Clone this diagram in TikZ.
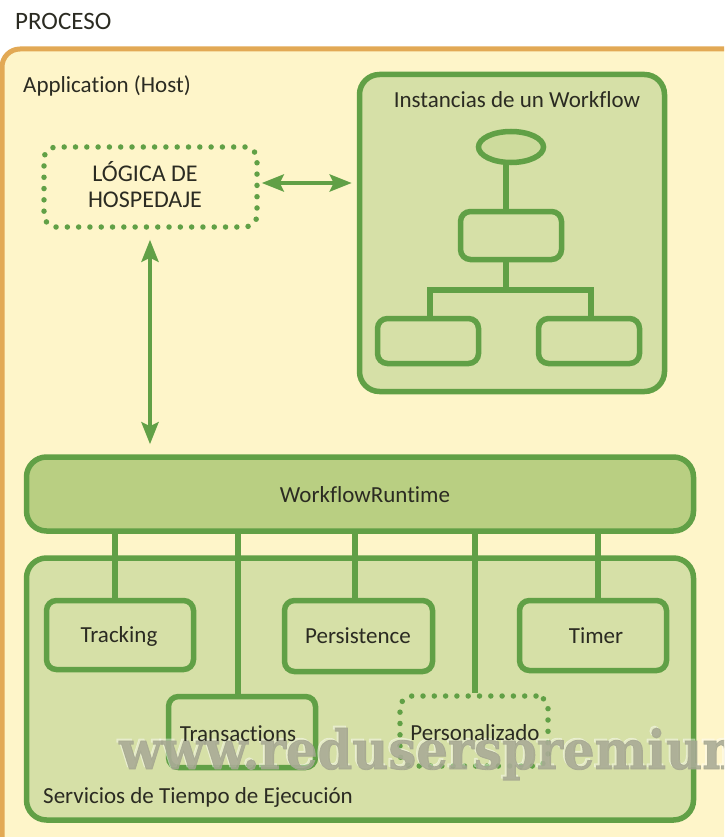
\documentclass[tikz,border=0pt]{standalone}
\usepackage{graphicx}
\usepackage{fontspec}
\setmainfont[Ligatures=NoCommon]{Carlito}
\newfontfamily\wmfont[BoldFeatures={FakeBold=1.5}]{DejaVu Serif}
\usetikzlibrary{arrows.meta,shapes.geometric}
\definecolor{cream}{HTML}{FEF5C9}
\definecolor{orangeb}{HTML}{E2A955}
\definecolor{gline}{HTML}{61A046}
\definecolor{gfill}{HTML}{D6E0A7}
\definecolor{gbar}{HTML}{B9CF82}
\definecolor{ink}{HTML}{2B2B22}
\definecolor{wm}{HTML}{A5A791}
\tikzset{
  every node/.style={text=ink,font=\fontsize{23}{26}\selectfont,inner sep=0pt},
  box/.style={draw=gline,line width=5.5pt,rectangle,rounded corners=10pt},
  panel/.style={box,fill=gfill,rounded corners=20pt},
  dotbox/.style={draw=gline,line width=5.5pt,rectangle,rounded corners=12pt,line cap=round,dash pattern=on 0pt off 11.3pt},
  link/.style={draw=gline,line width=5.5pt},
  arr/.style={draw=gline,line width=4.5pt,{Stealth[length=22pt,width=17pt,inset=4pt]}-{Stealth[length=22pt,width=17pt,inset=4pt]}},
  lbl/.style={anchor=base west},
  wmtext/.style={anchor=base west,font=\wmfont\bfseries\fontsize{54}{60}\selectfont},
}
\begin{document}
\begin{tikzpicture}[x=1pt,y=-1pt]
\useasboundingbox (0,0) rectangle (724,837);
\clip (0,0) rectangle (724,837);
\node[lbl,name=proceso,font=\fontsize{25}{26}\selectfont] at (15,30) {PROCESO};
\path[draw=orangeb,fill=cream,line width=5pt,rounded corners=18pt] (2,49) rectangle (770,880);
\node[lbl,name=app] at (23,93) {Application (Host)};

% Workflow instances
\node[panel,minimum width=305pt,minimum height=317pt,name=inst] at (512,233) {};
\node[anchor=base,name=insttitle] at (517,108) {Instancias de un Workflow};
\node[ellipse,draw=gline,line width=5.5pt,fill=gbar!30!gfill,minimum width=65pt,minimum height=31pt,name=oval] at (511,147) {};
\node[box,minimum width=101pt,minimum height=48pt,name=mid] at (511,235.5) {};
\node[box,minimum width=101pt,minimum height=45pt,name=leftb] at (428,341) {};
\node[box,minimum width=101pt,minimum height=45pt,name=rightb] at (589,341) {};
\coordinate (junc) at (506,290);
\draw[link] (oval.south -| junc) -- (mid.north -| junc);
\draw[link] (mid.south -| junc) -- (junc);
\draw[link] (leftb.north -| 430,0) -- (430,290) -- (591,290) -- (rightb.north -| 591,0);

% Hosting logic
\node[dotbox,minimum width=213pt,minimum height=80pt,name=logica] at (150.5,187) {};
\node[align=center,name=logicat,font=\fontsize{24}{26}\selectfont] at (145,185) {LÓGICA DE\\HOSPEDAJE};

% Runtime
\node[panel,fill=gbar,minimum width=667pt,minimum height=74pt,name=runtime] at (360,494) {};
\node[name=runtimet] at (365,495) {WorkflowRuntime};

\draw[arr,shorten <=2pt,shorten >=5pt] ([yshift=4pt]logica.east) -- ([yshift=4pt]logica.east -| inst.west);
\draw[arr] ([yshift=-10pt]logica.south -| 150,0) -- ([yshift=10pt]runtime.north -| 150,0);

% Services
\node[panel,minimum width=667pt,minimum height=262pt,name=serv] at (360,689) {};
\node[box,minimum width=147pt,minimum height=69pt,name=track] at (120,635) {};
\node[box,minimum width=148pt,minimum height=71pt,name=persist] at (358.5,636) {};
\node[box,minimum width=147pt,minimum height=70pt,name=timer] at (593,635.5) {};
\node[box,fill=gfill,minimum width=147pt,minimum height=71pt,name=trans] at (242,732) {};
\node[dotbox,minimum width=148pt,minimum height=70pt,name=pers] at (474,731) {};
\node[name=trackt] at (119,636) {Tracking};
\node[name=persistt] at (358,636) {Persistence};
\node[name=timert] at (596,636) {Timer};
\node[lbl,name=servt] at (43,803) {Servicios de Tiempo de Ejecución};

\draw[link] (runtime.south -| 115,0) -- (track.north -| 115,0);
\draw[link] (runtime.south -| 355,0) -- (persist.north -| 355,0);
\draw[link] (runtime.south -| 598,0) -- (timer.north -| 598,0);
\draw[link] (runtime.south -| 238,0) -- (trans.north -| 238,0);
\draw[link] (runtime.south -| 475,0) -- (pers.north -| 475,0);

% Watermark
\node[wmtext,text=white,opacity=.35,name=wmshadow] at (117,767) {\scalebox{0.92}[1]{www.reduserspremium}};
\node[wmtext,text=wm,opacity=.85,name=wmark] at (119,769) {\scalebox{0.92}[1]{www.reduserspremium}};

\node[name=transt] at (238,734) {Transactions};
\node[name=perst] at (475,733) {Personalizado};
\end{tikzpicture}
\end{document}
